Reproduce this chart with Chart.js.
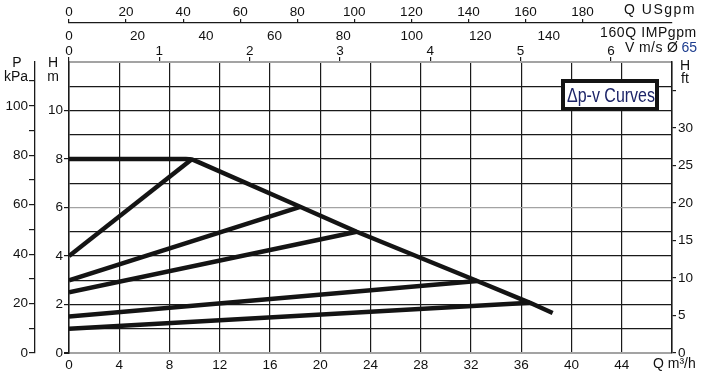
<!DOCTYPE html>
<html>
<head>
<meta charset="utf-8">
<script src="https://cdn.jsdelivr.net/npm/chart.js@4.4.1/dist/chart.umd.min.js"></script>
<style>
    html, body { margin: 0; padding: 0; background: #fff; }
    #wrap { width: 705px; height: 377px; position: relative; }
</style>
</head>
<body>
<div id="wrap"><canvas id="pumpChart"></canvas></div>
<script>
// --- axis ticks ---
const flowTicks = [0, 4, 8, 12, 16, 20, 24, 28, 32, 36, 40, 44, 48];
const headTicks = [0, 1, 2, 3, 4, 5, 6, 7, 8, 9, 10, 11, 12];
const kpaTicks = [0, 10, 20, 30, 40, 50, 60, 70, 80, 90, 100, 110];
const ftTicks = [0, 5, 10, 15, 20, 25, 30, 35];
const usgpmTicks = [0, 20, 40, 60, 80, 100, 120, 140, 160, 180];
const impgpmTicks = [0, 20, 40, 60, 80, 100, 120, 140, 160];
const velocityTicks = [0, 1, 2, 3, 4, 5, 6];

// conversions (m3/h and m to the other units)
const M3H_TO_USGPM = 4.403;
const M3H_TO_IMPGPM = 3.666;
const M3H_PER_MS = 7.19;
const M_TO_KPA = 9.81;
const FT_AXIS_MAX = 38.8;
const Q_MAX = 48;
const H_MAX = 12;

// --- curves ---
// max speed curve
const maxCurveQ = [0, 9.3, 9.8, 10.4, 18.4, 22.9, 32.5, 36.7, 38.5];
const maxCurveH = [8, 8, 7.98, 7.85, 6.03, 5.0, 2.97, 2.07, 1.65];
// proportional pressure lines: start at Q=0, end on the max curve
const dpStartH = [4, 3, 2.5, 1.5, 1.0];
const dpEndQ = [9.8, 18.4, 22.9, 32.5, 36.7];
const dpEndH = [8, 6.03, 5.0, 2.97, 2.07];

const FONT = '"Liberation Sans", Arimo, Arial, sans-serif';
const TICK_FONT = { family: FONT, size: 13.5 };
const TEXT = '#111';
const GRID = '#1a1a1a';
const GREY = '#a3a3a3';

function fixedTicks(values) {
    return scale => { scale.ticks = values.map(v => ({ value: v })); };
}

const datasets = [{
    label: 'max',
    data: maxCurveQ.map((q, i) => ({ x: q, y: maxCurveH[i] }))
}];
dpStartH.forEach((h, i) => {
    datasets.push({
        label: 'dp' + (i + 1),
        data: [{ x: 0, y: h }, { x: dpEndQ[i], y: dpEndH[i] }]
    });
});
datasets.forEach(d => {
    d.borderColor = '#141414';
    d.borderWidth = 4.5;
    d.pointRadius = 0;
    d.tension = 0;
    d.borderJoinStyle = 'round';
});

// axis names and the legend box
const labelsPlugin = {
    id: 'pumpLabels',
    afterDraw(chart) {
        const c = chart.ctx;
        c.save();
        c.fillStyle = TEXT;
        c.font = '14px ' + FONT;
        c.textBaseline = 'middle';
        c.textAlign = 'center';
        c.fillText('P', 17, 63);
        c.fillText('kPa', 16, 77);
        c.fillText('H', 53, 63);
        c.fillText('m', 53, 77);
        c.fillText('H', 685, 66);
        c.fillText('ft', 685, 79);

        c.textAlign = 'left';
        c.fillText('Q m³/h', 653, 364);
        c.letterSpacing = '1.5px';
        c.fillText('Q USgpm', 624, 10);
        c.letterSpacing = '0.6px';
        c.fillText(impgpmTicks[impgpmTicks.length - 1] + 'Q IMPgpm', 600, 33);
        c.letterSpacing = '0.4px';
        c.fillText('V m/s Ø', 625, 48);
        c.letterSpacing = '0px';
        c.textAlign = 'right';
        c.fillStyle = '#1d3d8f';
        c.fillText('65', 697, 48);

        // legend box
        c.lineWidth = 4;
        c.strokeStyle = '#141414';
        c.fillStyle = '#fff';
        c.fillRect(563, 81, 94, 28);
        c.strokeRect(563, 81, 94, 28);
        c.fillStyle = '#1c2468';
        c.textAlign = 'center';
        c.font = '20px "Liberation Sans Narrow", ' + FONT;
        const txt = '\u0394p-v Curves';
        const sx = Math.min(1, 88 / c.measureText(txt).width);
        c.translate(611, 96);
        c.scale(sx, 1);
        c.fillText(txt, 0, 0);
        c.restore();
    }
};

function draw() {
    new Chart(document.getElementById('pumpChart').getContext('2d'), {
        type: 'line',
        data: { datasets: datasets },
        plugins: [labelsPlugin],
        options: {
            responsive: true,
            maintainAspectRatio: false,
            animation: false,
            layout: { padding: 0 },
            plugins: { legend: { display: false }, tooltip: { enabled: false } },
            scales: {
                x: {
                    type: 'linear', position: 'bottom', min: 0, max: Q_MAX,
                    afterBuildTicks: fixedTicks(flowTicks),
                    afterFit: s => { s.height = 24; },
                    grid: { color: GRID, lineWidth: 1.2, drawTicks: false },
                    border: { display: true, color: GREY, width: 2 },
                    ticks: {
                        color: TEXT, font: TICK_FONT, padding: 4, maxRotation: 0,
                        callback: v => v === Q_MAX ? '' : v
                    }
                },
                xV: {
                    type: 'linear', position: 'top', weight: 0, min: 0, max: Q_MAX / M3H_PER_MS,
                    afterBuildTicks: fixedTicks(velocityTicks),
                    afterFit: s => { s.height = 22; },
                    grid: { drawOnChartArea: false, tickLength: 5, color: GRID, lineWidth: 1.2 },
                    border: { display: false },
                    ticks: { color: TEXT, font: TICK_FONT, padding: -2, maxRotation: 0 }
                },
                xIMP: {
                    type: 'linear', position: 'top', weight: 1, min: 0, max: Q_MAX * M3H_TO_IMPGPM,
                    afterBuildTicks: fixedTicks(impgpmTicks),
                    afterFit: s => { s.height = 17; },
                    grid: { display: false, drawTicks: false },
                    border: { display: false },
                    ticks: {
                        color: TEXT, font: TICK_FONT, padding: -4, maxRotation: 0,
                        callback: v => v === impgpmTicks[impgpmTicks.length - 1] ? '' : v
                    }
                },
                xUS: {
                    type: 'linear', position: 'top', weight: 2, min: 0, max: Q_MAX * M3H_TO_USGPM,
                    afterBuildTicks: fixedTicks(usgpmTicks),
                    afterFit: s => { s.height = 23; },
                    grid: { drawOnChartArea: false, tickLength: 4, color: GRID, lineWidth: 1.2 },
                    border: { display: true, color: GRID, width: 1.3 },
                    ticks: { color: TEXT, font: TICK_FONT, padding: -1, maxRotation: 0 }
                },
                y: {
                    type: 'linear', position: 'left', weight: 0, min: 0, max: H_MAX,
                    afterBuildTicks: fixedTicks(headTicks),
                    afterFit: s => { s.width = 34; },
                    grid: {
                        color: ctx => [0, 6, 12].includes(ctx.tick.value) ? GREY : GRID,
                        lineWidth: ctx => [0, 12].includes(ctx.tick.value) ? 2 : 1.2,
                        tickColor: ctx => ctx.tick.value % 2 === 0 && ctx.tick.value < 12 ? GRID : 'rgba(0,0,0,0)',
                        tickLength: 5
                    },
                    border: { display: true, color: GRID, width: 1.5 },
                    ticks: {
                        color: TEXT, font: TICK_FONT, padding: 1,
                        callback: v => v % 2 === 0 && v < 12 ? v : ''
                    }
                },
                yP: {
                    type: 'linear', position: 'left', weight: 1, min: 0, max: H_MAX * M_TO_KPA,
                    afterBuildTicks: fixedTicks(kpaTicks),
                    afterFit: s => { s.width = 35; },
                    grid: { drawOnChartArea: false, tickLength: 6, color: GRID, lineWidth: 1.2 },
                    border: { display: true, color: GRID, width: 1.3 },
                    ticks: {
                        color: TEXT, font: TICK_FONT, padding: 1,
                        callback: v => v % 20 === 0 ? v : ''
                    }
                },
                yFt: {
                    type: 'linear', position: 'right', min: 0, max: FT_AXIS_MAX,
                    afterBuildTicks: fixedTicks(ftTicks),
                    afterFit: s => { s.width = 33; },
                    grid: { drawOnChartArea: false, tickLength: 4, color: GRID, lineWidth: 1.2 },
                    border: { display: true, color: GRID, width: 1.5 },
                    ticks: {
                        color: TEXT, font: TICK_FONT, padding: 2,
                        callback: v => v < 35 ? v : ''
                    }
                }
            }
        }
    });
}

// make sure the system fonts are resolved before the canvas draws text
Promise.all([
    document.fonts.load('13px "Liberation Sans"'),
    document.fonts.load('20px "Liberation Sans Narrow"')
]).then(draw, draw);
</script>
</body>
</html>
